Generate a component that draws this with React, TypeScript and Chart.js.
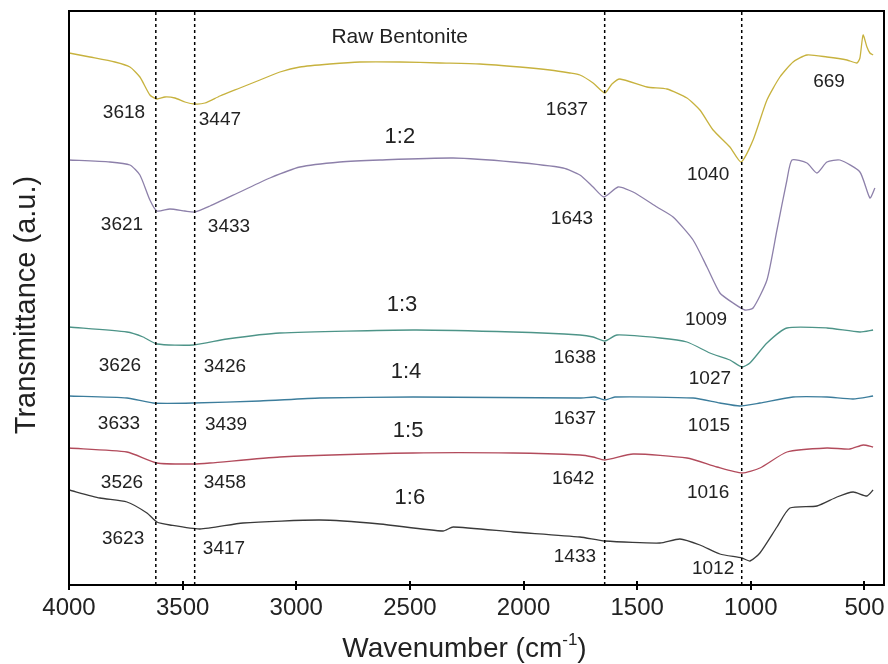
import { useEffect, useRef } from "react";
import { Chart, registerables } from "chart.js";

Chart.register(...registerables);

const FONT = '"Liberation Sans", Arial, Helvetica, sans-serif';

// Wavenumber axis (cm^-1), drawn high to low
const xTicks = [4000, 3500, 3000, 2500, 2000, 1500, 1000, 500];
const xRange = [414, 4000];
const yRange = [0, 5.74];

// Spectra: [wavenumber, transmittance (a.u., offset for stacking)]
const rawBentonite: [number, number][] = [
  [4000, 5.32], [3908, 5.28], [3798, 5.23], [3732, 5.18], [3688, 5.08], [3644, 4.9],
  [3613, 4.86], [3578, 4.88], [3534, 4.87], [3490, 4.83], [3446, 4.81], [3402, 4.82],
  [3336, 4.89], [3248, 4.97], [3160, 5.05], [3072, 5.13], [2984, 5.18], [2852, 5.21],
  [2720, 5.23], [2544, 5.23], [2368, 5.22], [2192, 5.21], [2016, 5.18], [1884, 5.15],
  [1796, 5.12], [1752, 5.1], [1694, 5.02], [1642, 4.92], [1611, 5.01], [1576, 5.06],
  [1457, 4.98], [1369, 4.96], [1281, 4.87], [1224, 4.75], [1166, 4.55], [1092, 4.38],
  [1043, 4.23], [990, 4.45], [929, 4.85], [872, 5.08], [814, 5.23], [753, 5.3],
  [665, 5.28], [577, 5.25], [533, 5.22], [520, 5.27], [506, 5.5], [489, 5.38],
  [476, 5.32], [462, 5.3],
];

const ratio12: [number, number][] = [
  [4000, 4.25], [3820, 4.23], [3732, 4.2], [3688, 4.1], [3644, 3.85], [3613, 3.74],
  [3556, 3.76], [3490, 3.74], [3446, 3.73], [3380, 3.79], [3248, 3.93], [3116, 4.07],
  [2984, 4.18], [2808, 4.23], [2632, 4.25], [2310, 4.27], [2046, 4.23], [1826, 4.17],
  [1752, 4.1], [1694, 3.98], [1646, 3.88], [1584, 3.98], [1518, 3.93], [1413, 3.78],
  [1342, 3.68], [1254, 3.45], [1193, 3.18], [1136, 2.92], [1078, 2.82], [1026, 2.75],
  [990, 2.77], [929, 3.05], [885, 3.55], [841, 4.05], [819, 4.25], [753, 4.22],
  [709, 4.12], [665, 4.23], [608, 4.25], [520, 4.13], [476, 3.87], [454, 3.97],
];

const ratio13: [number, number][] = [
  [4000, 2.58], [3745, 2.53], [3674, 2.48], [3613, 2.41], [3454, 2.4], [3305, 2.46],
  [3072, 2.52], [2486, 2.55], [2046, 2.53], [1752, 2.5], [1694, 2.48], [1642, 2.44],
  [1589, 2.5], [1400, 2.47], [1281, 2.43], [1180, 2.32], [1092, 2.25], [1039, 2.18],
  [1004, 2.22], [929, 2.42], [841, 2.57], [665, 2.57], [520, 2.53], [462, 2.55],
];

const ratio14: [number, number][] = [
  [4000, 1.89], [3745, 1.87], [3630, 1.82], [3454, 1.82], [3160, 1.84], [2896, 1.87],
  [2486, 1.88], [1752, 1.87], [1686, 1.88], [1642, 1.85], [1598, 1.88], [1254, 1.87],
  [1136, 1.82], [1048, 1.79], [960, 1.82], [814, 1.88], [665, 1.88], [550, 1.86],
  [462, 1.89],
];

const ratio15: [number, number][] = [
  [4000, 1.37], [3745, 1.33], [3613, 1.22], [3454, 1.21], [3380, 1.22], [3072, 1.28],
  [2486, 1.32], [2046, 1.32], [1752, 1.3], [1694, 1.28], [1642, 1.25], [1518, 1.31],
  [1281, 1.27], [1149, 1.18], [1039, 1.12], [960, 1.17], [841, 1.33], [665, 1.37],
  [564, 1.36], [506, 1.4], [462, 1.38],
];

const ratio16: [number, number][] = [
  [4000, 0.95], [3864, 0.87], [3745, 0.83], [3657, 0.72], [3613, 0.63], [3556, 0.6],
  [3424, 0.56], [3234, 0.62], [2896, 0.65], [2632, 0.61], [2354, 0.54], [2310, 0.58],
  [2046, 0.53], [1752, 0.48], [1642, 0.44], [1400, 0.42], [1312, 0.46], [1224, 0.4],
  [1136, 0.31], [1039, 0.27], [1004, 0.24], [960, 0.32], [885, 0.58], [828, 0.77],
  [709, 0.79], [621, 0.88], [550, 0.93], [489, 0.89], [462, 0.95],
];

const seriesNames = ["Raw Bentonite", "1:2", "1:3", "1:4", "1:5", "1:6"];
const seriesData = [rawBentonite, ratio12, ratio13, ratio14, ratio15, ratio16];
const seriesColors = ["#c7b23e", "#8d80aa", "#4d9488", "#3c7d9c", "#b24b5c", "#3a3a3a"];

// Reference band positions (dashed guides)
const bandLines = [3618, 3447, 1643, 1040];

// Sample names placed above each trace: [text, wavenumber, level]
const sampleLabels: [string, number, number][] = [
  ["1:2", 2544, 4.48],
  ["1:3", 2535, 2.8],
  ["1:4", 2517, 2.13],
  ["1:5", 2508, 1.54],
  ["1:6", 2500, 0.87],
];
const titleLabel: [string, number, number] = ["Raw Bentonite", 2545, 5.48];

// Peak positions written next to each band: [text, wavenumber, level]
const peakLabels: [string, number, number][] = [
  ["3618", 3758, 4.72], ["3447", 3336, 4.65], ["1637", 1809, 4.75], ["669", 656, 5.03], ["1040", 1188, 4.1],
  ["3621", 3767, 3.6], ["3433", 3296, 3.58], ["1643", 1787, 3.66], ["1009", 1197, 2.65],
  ["3626", 3776, 2.19], ["3426", 3314, 2.18], ["1638", 1774, 2.27], ["1027", 1180, 2.06],
  ["3633", 3780, 1.61], ["3439", 3309, 1.6], ["1637", 1774, 1.66], ["1015", 1184, 1.59],
  ["3526", 3767, 1.02], ["3458", 3314, 1.02], ["1642", 1782, 1.06], ["1016", 1188, 0.92],
  ["3623", 3762, 0.46], ["3417", 3318, 0.36], ["1433", 1774, 0.28], ["1012", 1166, 0.16],
];

const decorations = {
  id: "decorations",
  afterDraw(chart: any) {
    const { ctx, chartArea: a, scales } = chart;
    const x = scales.x;
    const y = scales.y;
    ctx.save();

    // frame
    ctx.strokeStyle = "#000";
    ctx.lineWidth = 2;
    ctx.strokeRect(a.left, a.top, a.right - a.left, a.bottom - a.top);

    // tick marks crossing the bottom axis
    for (const t of xTicks) {
      const px = Math.round(x.getPixelForValue(t));
      ctx.beginPath();
      ctx.moveTo(px, a.bottom - 4);
      ctx.lineTo(px, a.bottom + 5);
      ctx.stroke();
    }

    ctx.fillStyle = "#222";
    ctx.textAlign = "center";
    ctx.textBaseline = "middle";

    ctx.font = `19px ${FONT}`;
    for (const [t, w, v] of peakLabels) {
      ctx.fillText(t, x.getPixelForValue(w), y.getPixelForValue(v));
    }

    ctx.font = `22px ${FONT}`;
    for (const [t, w, v] of sampleLabels) {
      ctx.fillText(t, x.getPixelForValue(w), y.getPixelForValue(v));
    }
    ctx.font = `21px ${FONT}`;
    ctx.fillText(titleLabel[0], x.getPixelForValue(titleLabel[1]), y.getPixelForValue(titleLabel[2]));

    // x axis title with superscript unit
    ctx.textAlign = "left";
    ctx.textBaseline = "alphabetic";
    const main = "Wavenumber (cm";
    const sup = "-1";
    const close = ")";
    ctx.font = `28px ${FONT}`;
    const wMain = ctx.measureText(main).width;
    const wClose = ctx.measureText(close).width;
    ctx.font = `17px ${FONT}`;
    const wSup = ctx.measureText(sup).width;
    const total = wMain + wSup + wClose;
    const cx = (a.left + a.right) / 2 - 12;
    const base = a.bottom + 72;
    let tx = cx - total / 2;
    ctx.font = `28px ${FONT}`;
    ctx.fillText(main, tx, base);
    tx += wMain;
    ctx.font = `17px ${FONT}`;
    ctx.fillText(sup, tx, base - 12);
    tx += wSup;
    ctx.font = `28px ${FONT}`;
    ctx.fillText(close, tx, base);

    // y axis title
    ctx.translate(27, (a.top + a.bottom) / 2 + 7);
    ctx.rotate(-Math.PI / 2);
    ctx.textAlign = "center";
    ctx.textBaseline = "middle";
    ctx.font = `29px ${FONT}`;
    ctx.fillText("Transmittance (a.u.)", 0, 0);

    ctx.restore();
  },
};

export default function App() {
  const canvasRef = useRef<HTMLCanvasElement | null>(null);

  useEffect(() => {
    const canvas = canvasRef.current;
    if (!canvas) return;

    const spectra = seriesData.map((pts, i) => ({
      label: seriesNames[i],
      data: pts.map(([w, v]) => ({ x: w, y: v })),
      borderColor: seriesColors[i],
      borderWidth: 1.3,
      pointRadius: 0,
      tension: 0.2,
      fill: false,
    }));

    const guides = bandLines.map((w) => ({
      label: `${w}`,
      data: [
        { x: w, y: yRange[0] },
        { x: w, y: yRange[1] },
      ],
      borderColor: "#000",
      borderWidth: 1.5,
      borderDash: [3, 3],
      pointRadius: 0,
      fill: false,
    }));

    const chart = new Chart(canvas, {
      type: "line",
      data: { datasets: [...guides, ...spectra] },
      options: {
        responsive: false,
        animation: false,
        layout: { padding: { top: 11, right: 4, left: 0, bottom: 0 } },
        plugins: {
          legend: { display: false },
          tooltip: { enabled: false },
        },
        scales: {
          x: {
            type: "linear",
            reverse: true,
            min: xRange[0],
            max: xRange[1],
            grid: { display: false, drawTicks: false },
            border: { display: false },
            afterBuildTicks: (axis: any) => {
              axis.ticks = xTicks.map((v) => ({ value: v }));
            },
            afterFit: (axis: any) => {
              axis.height = 79;
              axis.paddingLeft = 0;
              axis.paddingRight = 0;
            },
            ticks: {
              autoSkip: false,
              maxRotation: 0,
              padding: 9,
              color: "#222",
              font: { family: FONT, size: 24 },
              callback: (v: any) => `${v}`,
            },
          },
          y: {
            type: "linear",
            min: yRange[0],
            max: yRange[1],
            grid: { display: false, drawTicks: false },
            border: { display: false },
            ticks: { display: false },
            afterFit: (axis: any) => {
              axis.width = 69;
              axis.paddingTop = 0;
              axis.paddingBottom = 0;
            },
          },
        },
      },
      plugins: [decorations],
    });

    return () => chart.destroy();
  }, []);

  return (
    <div style={{ position: "fixed", left: 0, top: 0, width: 888, height: 664, background: "#fff" }}>
      <canvas ref={canvasRef} width={888} height={664} style={{ display: "block" }} />
    </div>
  );
}
